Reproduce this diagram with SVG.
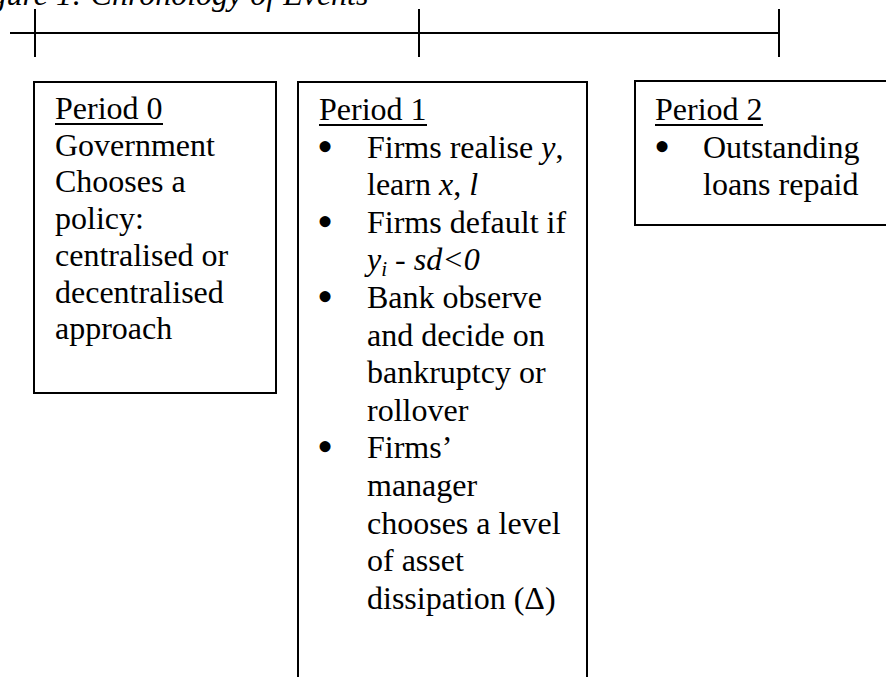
<svg xmlns="http://www.w3.org/2000/svg" width="886" height="677" viewBox="0 0 886 677">
<style>
text{font-family:"Liberation Serif","Times New Roman",serif;font-size:32px;fill:#000}
.it{font-style:italic}
.bu{font-size:46px}
.box{fill:#fff;stroke:#000;stroke-width:2}
.tl{stroke:#000;stroke-width:2;fill:none}
.ul{stroke:#000;stroke-width:1.8}
</style>
<rect width="886" height="677" fill="#fff"/>
<text class="it" x="-38" y="5">Figure 1: Chronology of Events</text>
<g id="timeline">
<line class="tl" x1="10" y1="33" x2="779" y2="33"/>
<line class="tl" x1="35" y1="9" x2="35" y2="57"/>
<line class="tl" x1="419" y1="9" x2="419" y2="57"/>
<line class="tl" x1="779" y1="9" x2="779" y2="57"/>
</g>
<g id="period0">
<rect class="box" x="34" y="82" width="242" height="311"/>
<text x="55" y="119">Period 0</text>
<line class="ul" x1="55" y1="124" x2="163" y2="124"/>
<text x="55" y="155.7">Government</text>
<text x="55" y="192.4">Chooses a</text>
<text x="55" y="229.1">policy:</text>
<text x="55" y="265.8">centralised or</text>
<text x="55" y="302.5">decentralised</text>
<text x="55" y="339.2">approach</text>
</g>
<g id="period1">
<rect class="box" x="298" y="82" width="289" height="620"/>
<text x="319" y="120">Period 1</text>
<line class="ul" x1="319" y1="125" x2="427" y2="125"/>
<text class="bu" x="317" y="161.6">•</text>
<text x="367" y="157.6">Firms realise <tspan class="it">y</tspan>,</text>
<text x="367" y="195.2">learn <tspan class="it">x</tspan>, <tspan class="it">l</tspan></text>
<text class="bu" x="317" y="236.8">•</text>
<text x="367" y="232.8">Firms default if</text>
<text x="367" y="270.4"><tspan class="it">y</tspan><tspan class="it" font-size="21" dy="6">i</tspan><tspan dy="-6"> - </tspan><tspan class="it">sd&lt;0</tspan></text>
<text class="bu" x="317" y="312">•</text>
<text x="367" y="308">Bank observe</text>
<text x="367" y="345.6">and decide on</text>
<text x="367" y="383.2">bankruptcy or</text>
<text x="367" y="420.8">rollover</text>
<text class="bu" x="317" y="462.4">•</text>
<text x="367" y="458.4">Firms’</text>
<text x="367" y="496">manager</text>
<text x="367" y="533.6">chooses a level</text>
<text x="367" y="571.2">of asset</text>
<text x="367" y="608.8">dissipation (Δ)</text>
</g>
<g id="period2">
<rect class="box" x="635" y="81" width="270" height="144"/>
<text x="655" y="120">Period 2</text>
<line class="ul" x1="655" y1="125" x2="763" y2="125"/>
<text class="bu" x="654" y="161.6">•</text>
<text x="703" y="157.6">Outstanding</text>
<text x="703" y="195.2">loans repaid</text>
</g>
<g id="connectors"></g>
</svg>
